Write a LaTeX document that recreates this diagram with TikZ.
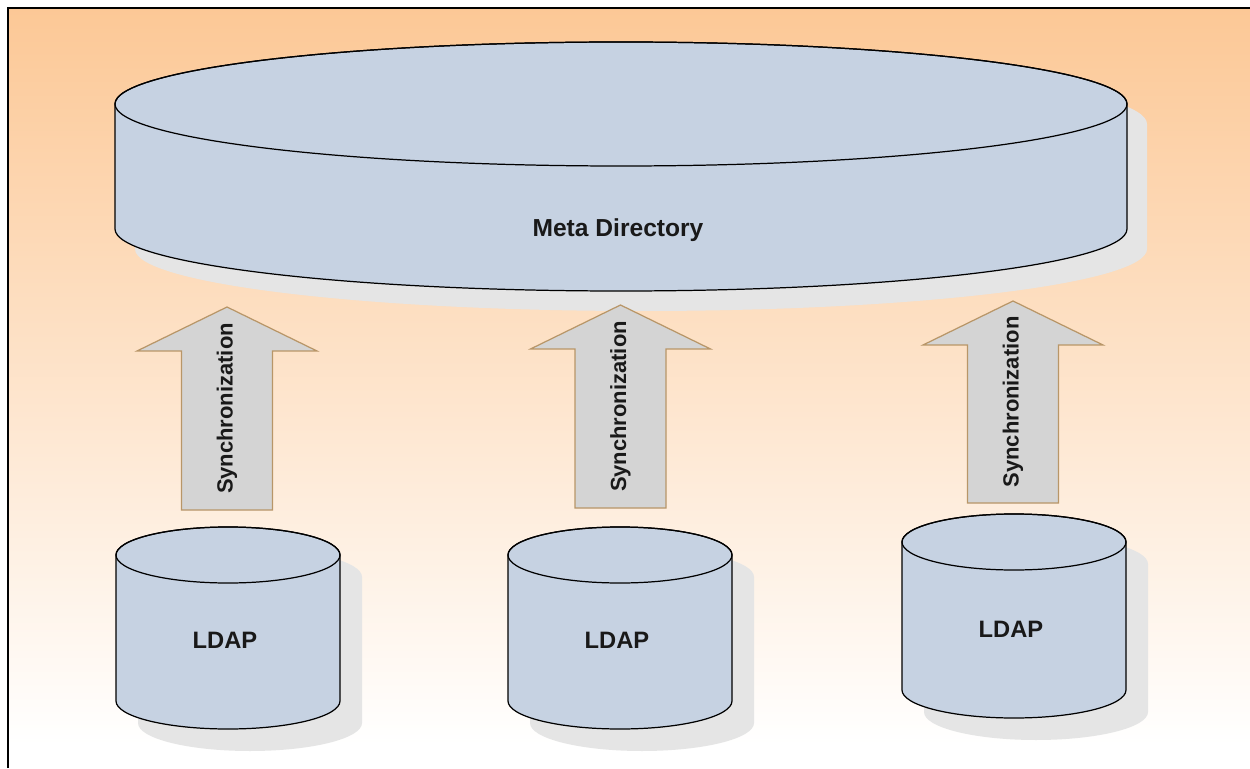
\documentclass[tikz,border=0pt]{standalone}
\usepackage{fontspec}
\setmainfont{Liberation Sans}
\usepackage{tikz}

\definecolor{bgtop}{RGB}{252,200,150}
\definecolor{dbblue}{RGB}{198,210,226}
\definecolor{dbshade}{RGB}{229,229,229}
\definecolor{syncgray}{RGB}{212,212,212}
\definecolor{synctan}{RGB}{184,150,104}
\definecolor{lbldark}{RGB}{25,25,25}

% cylinder outline: centre x, top y, bottom y, x radius, y radius
\newcommand{\drumpath}[5]{({#1-#4},#2) -- ({#1-#4},#3) arc[start angle=180, end angle=360, x radius=#4, y radius=#5] -- ({#1+#4},#2) arc[start angle=0, end angle=180, x radius=#4, y radius=#5] -- cycle}

\begin{document}
\begin{tikzpicture}[x=0.02cm, y=0.02cm,
	dbbody/.style={fill=dbblue, draw=black, line width=0.7pt},
	dbshadow/.style={fill=dbshade},
	syncbody/.style={fill=syncgray, draw=synctan, line width=0.7pt},
	lbl/.style={text=lbldark, font=\bfseries\fontsize{13.5}{16}\selectfont, inner sep=0pt},
	synclbl/.style={text=lbldark, font=\bfseries\fontsize{12.5}{15}\selectfont, inner sep=0pt, rotate=90}]
	\useasboundingbox (0,0) rectangle (1250,768);
	\fill[white] (0,0) rectangle (1250,768);
	\shade[top color=bgtop, bottom color=white] (8,23) rectangle (1250,760);
	\draw[line width=1.4pt] (8,0) -- (8,760) -- (1250,760);
	
	% meta directory
	\fill[dbshadow, shift={(20,-20)}] \drumpath{621}{664}{539}{506}{62};
	\filldraw[dbbody] \drumpath{621}{664}{539}{506}{62};
	\draw[dbbody, fill=none] (621,664) ellipse [x radius=506, y radius=62];
	\node[lbl, font=\bfseries\fontsize{14}{17}\selectfont] (meta) at (618,538) {Meta Directory};
	
	% ldap stores
	\foreach \cx/\yt/\yb/\n in {228/213/67/1, 620/213/67/2, 1014/226/78/3} {
		\fill[dbshadow, shift={(22,-22)}] \drumpath{\cx}{\yt}{\yb}{112}{28};
		\filldraw[dbbody] \drumpath{\cx}{\yt}{\yb}{112}{28};
		\draw[dbbody, fill=none] (\cx,\yt) ellipse [x radius=112, y radius=28];
		\node[lbl] (ldap\n) at (\cx-3,\yb+61) {LDAP};
	}
	
	% synchronization arrows
	\foreach \cx/\yb/\yt/\n in {227/258/461/1, 620.5/260/463/2, 1013/265/467/3} {
		\filldraw[syncbody] (\cx-45.5,\yb) -- (\cx-45.5,\yt-44) -- (\cx-90,\yt-44) -- (\cx,\yt)
			-- (\cx+90,\yt-44) -- (\cx+45.5,\yt-44) -- (\cx+45.5,\yb) -- cycle;
		\node[synclbl] (sync\n) at (\cx,{(\yb+\yt)/2}) {Synchronization};
	}
\end{tikzpicture}
\end{document}
